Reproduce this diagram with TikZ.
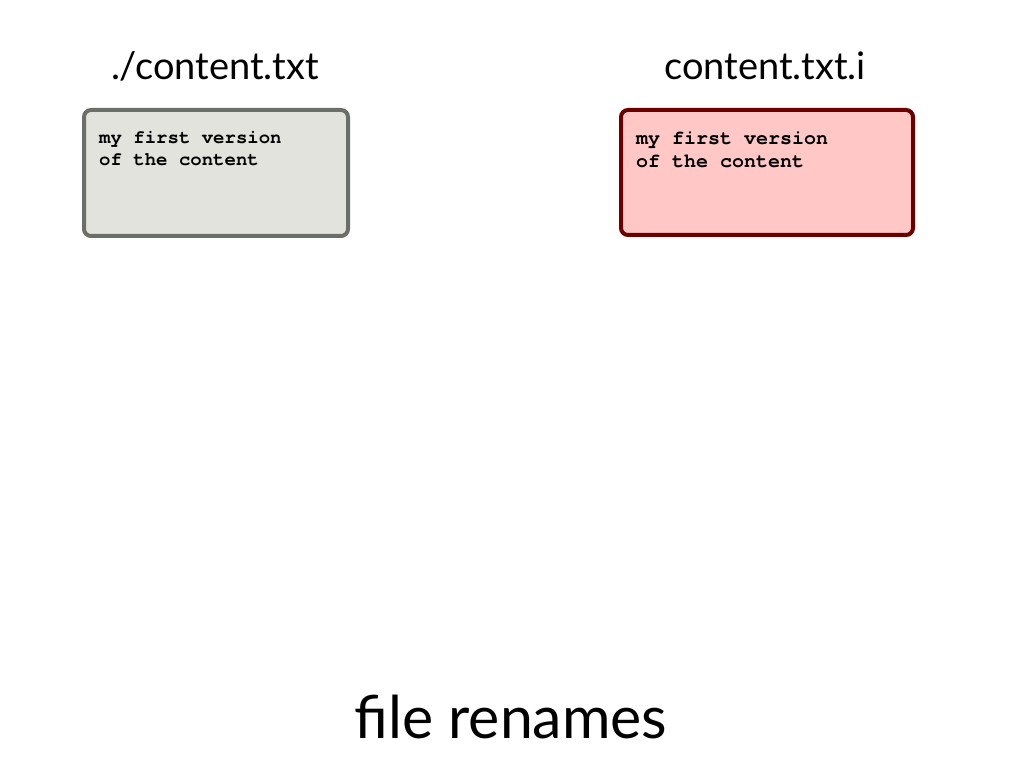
\documentclass[tikz,border=0pt]{standalone}
\usepackage{fontspec}
\setmainfont{Lato}
\setmonofont[Ligatures=NoCommon]{TeX Gyre Cursor}
\definecolor{grayfill}{HTML}{E1E3DC}
\definecolor{graydraw}{HTML}{6B6E69}
\definecolor{redfill}{HTML}{FFC8C6}
\definecolor{reddraw}{HTML}{6B0000}
\begin{document}
\begin{tikzpicture}[x=1pt,y=1pt,
  filebox/.style={rounded corners=7pt, line width=4pt},
  title/.style={font=\fontsize{38}{44}\selectfont, anchor=base, inner sep=0pt},
  content/.style={font=\fontsize{19}{22.5}\selectfont\ttfamily\bfseries, anchor=north west, align=left, inner sep=0pt}
]
\useasboundingbox (0,0) rectangle (1024,768);
\fill[white] (0,0) rectangle (1024,768);
\draw[filebox, draw=graydraw, fill=grayfill] (84,658) rectangle (348,532);
\draw[filebox, draw=reddraw, fill=redfill] (621,658) rectangle (913,533);
\node[title] (t1) at (215,688) {./content.txt};
\node[title] (t2) at (765,688) {content.txt.i};
\node[content] (c1) at (99,637) {my first version\\of the content};
\node[content, font=\fontsize{20}{23}\selectfont\ttfamily\bfseries] (c2) at (636,636) {my first version\\of the content};
\node[font=\fontsize{59}{66}\selectfont, anchor=base, inner sep=0pt] (cap) at (511,30) {file renames};
\end{tikzpicture}
\end{document}
